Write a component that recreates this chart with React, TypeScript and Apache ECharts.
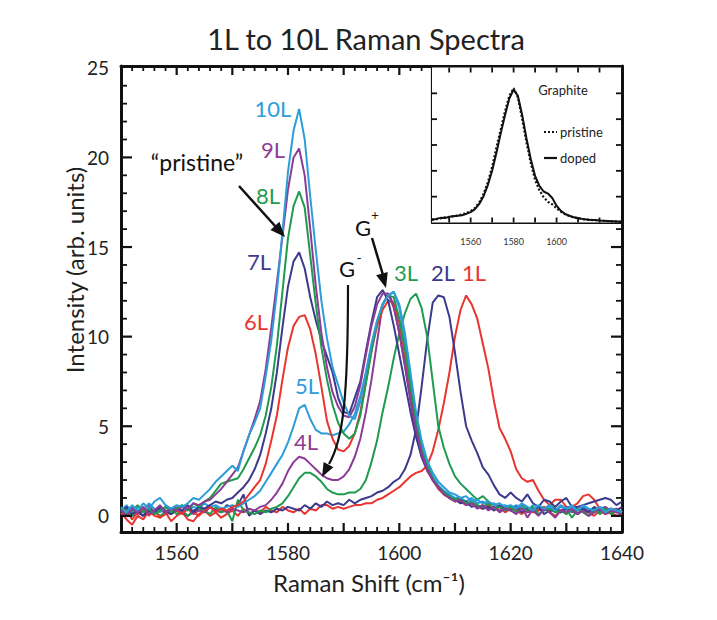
import React, { useEffect, useRef } from "react";
import * as echarts from "echarts";

// Raman shift sampling (cm^-1)
const ramanShift = [
  1550, 1551, 1552, 1553, 1554, 1555, 1556, 1557, 1558, 1559,
  1560, 1561, 1562, 1563, 1564, 1565, 1566, 1567, 1568, 1569,
  1570, 1571, 1572, 1573, 1574, 1575, 1576, 1577, 1578, 1579,
  1580, 1581, 1582, 1583, 1584, 1585, 1586, 1587, 1588, 1589,
  1590, 1591, 1592, 1593, 1594, 1595, 1596, 1597, 1598, 1599,
  1600, 1601, 1602, 1603, 1604, 1605, 1606, 1607, 1608, 1609,
  1610, 1611, 1612, 1613, 1614, 1615, 1616, 1617, 1618, 1619,
  1620, 1621, 1622, 1623, 1624, 1625, 1626, 1627, 1628, 1629,
  1630, 1631, 1632, 1633, 1634, 1635, 1636, 1637, 1638, 1639,
  1640,
];

const s1L = [
  0.2, -0.2, -0.5, 0.0, -0.2, 0.3, 0.0, -0.1, 0.2, -0.3,
  0.0, 0.2, -0.2, -0.3, 0.1, 0.3, 0.0, 0.2, -0.1, 0.1,
  0.3, 0.0, 0.4, 0.1, 0.3, 0.2, 0.5, 0.3, 0.2, 0.5,
  0.3, 0.2, 0.4, 0.1, 0.4, 0.3, 0.6, 0.6, 0.4, 0.5,
  0.4, 0.5, 0.6, 0.6, 0.7, 0.7, 0.9, 1.0, 1.2, 1.4,
  1.6, 1.9, 2.2, 2.4, 2.5, 2.8, 3.6, 4.8, 6.3, 8.0,
  10.0, 11.5, 12.3, 11.8, 11.0, 9.6, 8.2, 6.4, 4.9, 4.3,
  3.6, 2.6, 2.1, 1.9, 2.0, 1.4, 0.9, 0.6, 0.9, 0.9,
  0.5, 0.5, 0.7, 1.1, 1.2, 0.9, 0.4, 0.3, 0.2, 0.3,
  0.2,
];
const s2L = [
  0.3, 0.1, 0.4, 0.2, 0.0, 0.3, 0.1, 0.4, 0.2, 0.1,
  0.3, 0.2, 0.0, 0.3, 0.4, 0.2, 0.5, 0.3, 0.2, 0.6,
  0.5, 0.6, 1.2, 0.0, 0.3, 0.1, 0.3, 0.2, 0.4, 0.3,
  0.5, 0.4, 0.3, 0.6, 0.4, 0.7, 0.5, 0.8, 0.6, 0.7,
  0.6, 0.9, 0.7, 0.9, 1.0, 1.1, 1.3, 1.4, 1.6, 1.9,
  2.1, 2.6, 3.4, 4.8, 7.2, 9.8, 11.9, 12.3, 12.2, 11.1,
  9.1, 6.9, 5.0, 4.2, 3.5, 2.7, 2.3, 1.7, 1.2, 1.0,
  1.3, 1.0, 0.8, 1.2, 0.7, 0.5, 0.9, 0.8, 0.5, 0.8,
  1.0, 0.5, 0.5, 0.6, 0.7, 0.8, 0.9, 1.0, 0.9, 0.6,
  0.8,
];
const s3L = [
  0.1, 0.4, 0.0, 0.2, 0.5, 0.1, 0.3, 0.0, 0.2, 0.4,
  0.1, 0.3, 0.0, 0.2, 0.4, 0.3, 0.1, 0.5, 0.2, 0.3,
  -0.3, 0.9, 0.3, 0.2, 0.1, 0.3, 0.2, 0.4, 0.5, 0.7,
  1.1, 1.6, 2.1, 2.4, 2.4, 2.2, 1.9, 1.5, 1.3, 1.2,
  1.2, 1.3, 1.3, 1.5, 2.0, 3.0, 4.2, 5.8, 7.2, 8.8,
  10.2, 11.3, 12.1, 12.4, 11.6, 10.0, 7.5, 5.0, 3.8, 2.9,
  2.2, 1.8, 1.5, 1.2, 0.9, 1.1, 0.8, 0.6, 0.5, 0.4,
  0.5, 0.3, 0.6, 0.4, 0.2, 0.5, 0.3, 0.6, 0.4, 0.2,
  0.4, -0.1, 0.3, 0.5, 0.2, 0.4, 0.1, 0.3, 0.4, 0.2,
  0.3,
];
const s4L = [
  0.4, 0.2, 0.5, 0.1, 0.3, 0.6, 0.2, 0.4, 0.1, 0.3,
  0.5, 0.2, 0.4, 0.1, 0.3, 0.2, 0.5, 0.3, 0.4, 0.2,
  0.4, 0.3, 0.2, 0.4, 0.3, 0.5, 0.6, 0.9, 1.3, 1.8,
  2.5, 3.0, 3.3, 3.2, 2.9, 2.6, 2.3, 2.1, 2.0, 2.0,
  2.2, 2.6, 3.3, 4.3, 5.8, 7.6, 9.7, 11.8, 12.4, 11.8,
  10.2, 8.4, 6.4, 4.6, 3.3, 2.5, 2.0, 1.6, 1.3, 1.0,
  0.9, 0.8, 0.6, 0.7, 0.5, 0.6, 0.4, 0.5, 0.3, 0.5,
  0.4, 0.3, 0.5, -0.1, 0.4, 0.3, 0.5, 0.2, 0.4, 0.3,
  0.5, 0.2, 0.4, 0.6, 0.3, 0.2, 0.4, 0.5, 0.3, 0.4,
  0.2,
];
const s5L = [
  0.3, 0.6, 0.2, 0.5, 0.3, 0.7, 0.4, 0.2, 0.5, 0.3,
  0.4, 0.6, 0.3, 0.5, 0.4, 0.7, 0.5, 0.6, 0.4, 0.5,
  0.6, 0.5, 0.7, 0.9, 1.1, 1.4, 1.9, 2.4, 2.9, 3.4,
  4.1, 5.0, 6.0, 6.2, 5.4, 4.8, 4.6, 4.6, 4.5, 4.6,
  4.7, 5.1, 5.7, 6.7, 8.0, 9.5, 10.8, 11.8, 12.3, 12.5,
  11.6, 9.8, 7.6, 5.5, 3.9, 2.9, 2.2, 1.7, 1.4, 1.2,
  1.0, 1.0, 0.8, 1.0, 0.7, 0.8, 0.6, 0.7, 0.5, 0.6,
  0.4, 0.6, 0.5, 0.3, 0.6, 0.5, 0.4, 0.6, 0.3, 0.5,
  0.4, 0.6, 0.3, 0.5, 0.4, 0.2, 0.5, 0.3, 0.4, 0.2,
  0.3,
];
const s6L = [
  0.0, 0.3, -0.2, 0.2, 0.4, 0.0, 0.3, -0.1, 0.1, 0.2,
  0.3, 0.1, 0.4, 0.2, 0.0, 0.3, 0.5, 0.2, 0.4, 0.3,
  0.5, 0.6, 0.8, 1.2, 1.6, 2.0, 2.9, 4.2, 5.6, 7.6,
  9.4, 10.6, 11.1, 11.2, 10.4, 9.0, 7.2, 5.3, 4.3, 3.7,
  3.6, 3.9, 4.6, 5.8, 7.5, 9.2, 10.6, 11.5, 12.0, 11.9,
  10.8, 9.0, 7.0, 5.0, 3.6, 2.7, 2.0, 1.5, 1.2, 1.0,
  0.8, 0.9, 0.6, 0.7, 0.5, 0.4, 0.6, 0.3, 0.5, 0.2,
  0.4, 0.3, 0.1, 0.4, 0.2, 0.3, 0.5, 0.2, 0.0, 0.3,
  0.2, 0.4, 0.1, 0.3, 0.2, 0.0, 0.3, 0.1, 0.2, 0.0,
  0.1,
];
const s7L = [
  0.2, 0.5, 0.1, 0.3, 0.0, 0.4, 0.2, 0.5, 0.3, 0.1,
  0.4, 0.3, 0.6, 0.2, 0.5, 0.4, 0.6, 0.8, 0.7, 0.9,
  1.0, 1.3, 1.6, 2.0, 2.6, 3.4, 4.6, 6.0, 8.0, 10.5,
  12.8, 14.2, 14.7, 13.8, 12.2, 10.9, 9.8, 8.9, 8.0, 6.6,
  5.8, 5.7, 6.6, 7.5, 9.2, 10.8, 12.2, 12.6, 12.0, 10.6,
  9.0, 7.4, 5.8, 4.4, 3.3, 2.6, 2.0, 1.6, 1.3, 1.0,
  0.9, 0.7, 0.8, 0.5, 0.6, 0.4, 0.5, 0.3, 0.6, 0.4,
  0.3, 0.5, 0.2, 0.4, 0.3, 0.5, 0.1, 0.3, 0.4, 0.2,
  0.4, 0.3, 0.1, 0.4, 0.2, 0.5, 0.3, 0.2, 0.4, 0.3,
  0.5,
];
const s8L = [
  0.4, 0.1, 0.3, 0.6, 0.2, 0.4, 0.1, 0.3, 0.5, 0.2,
  0.4, 0.6, 0.3, 0.7, 0.5, 0.8, 1.0, 1.4, 1.8, 1.9,
  2.0, 2.1, 2.6, 3.2, 3.8, 4.5, 5.6, 7.2, 9.5, 12.5,
  15.5, 17.3, 18.1, 17.2, 14.5, 11.8, 9.4, 7.6, 6.2, 5.2,
  4.6, 4.3, 4.6, 5.6, 7.4, 9.2, 10.8, 11.8, 12.3, 12.2,
  11.0, 9.3, 7.2, 5.2, 3.7, 2.8, 2.1, 1.6, 1.3, 1.1,
  0.9, 1.0, 0.7, 0.8, 0.6, 0.5, 0.7, 0.4, 0.5, 0.3,
  0.5, 0.2, 0.4, 0.3, 0.5, 0.1, 0.3, 0.4, 0.2, 0.3,
  0.1, 0.3, 0.4, 0.2, 0.0, 0.3, 0.2, 0.4, 0.1, 0.3,
  0.2,
];
const s9L = [
  0.3, 0.0, 0.4, 0.2, 0.5, 0.1, 0.3, 0.6, 0.2, 0.4,
  0.3, 0.5, 0.4, 0.7, 0.6, 0.8, 0.9, 1.2, 1.5, 1.9,
  2.3, 2.7, 3.6, 4.5, 5.4, 6.4, 8.2, 10.5, 13.0, 15.6,
  18.2, 20.0, 20.5, 19.0, 16.0, 12.8, 10.2, 8.3, 6.9, 6.1,
  5.6, 5.5, 6.1, 7.3, 9.0, 10.6, 11.8, 12.4, 12.4, 11.6,
  10.2, 8.4, 6.5, 4.8, 3.5, 2.6, 2.0, 1.6, 1.2, 1.0,
  0.8, 0.9, 0.6, 0.7, 0.4, 0.6, 0.3, 0.5, 0.2, 0.4,
  0.3, 0.1, 0.4, 0.2, 0.3, 0.0, 0.4, 0.2, -0.1, 0.3,
  0.2, 0.4, 0.1, 0.3, 0.0, 0.2, 0.4, 0.1, 0.3, 0.2,
  0.1,
];
const s10L = [
  0.5, 0.2, 0.6, 0.3, 0.7, 0.4, 0.8, 1.0, 0.6, 0.4,
  0.6, 0.5, 0.7, 1.0, 0.9, 1.2, 1.5, 1.9, 2.2, 2.5,
  2.8, 2.5, 3.6, 4.5, 5.2, 6.0, 7.8, 9.8, 12.5, 15.8,
  19.2, 21.5, 22.7, 21.0, 17.8, 14.8, 12.0, 9.9, 8.3, 7.3,
  6.3, 5.6, 5.4, 6.4, 8.0, 9.6, 10.9, 11.8, 12.3, 12.5,
  11.8, 10.2, 8.0, 5.8, 4.2, 3.1, 2.4, 1.9, 1.6, 1.3,
  1.2, 1.0, 1.1, 0.8, 0.9, 0.7, 0.8, 0.6, 0.7, 0.5,
  0.6, 0.4, 0.7, 0.5, 0.3, 0.6, 0.4, 0.5, 0.3, 0.6,
  0.4, 0.5, 0.3, 0.6, 0.4, 0.3, 0.5, 0.2, 0.4, 0.3,
  0.2,
];

const layerNames = ["1L", "2L", "3L", "4L", "5L", "6L", "7L", "8L", "9L", "10L"];
const layerValues = [s1L, s2L, s3L, s4L, s5L, s6L, s7L, s8L, s9L, s10L];

// Inset: graphite G band
const insetShift = [
  1542, 1544, 1546, 1548, 1550, 1552, 1554, 1556, 1558, 1560,
  1562, 1564, 1566, 1568, 1570, 1572, 1574, 1576, 1578, 1580,
  1582, 1584, 1586, 1588, 1590, 1592, 1594, 1596, 1598, 1600,
  1602, 1604, 1606, 1608, 1610, 1612, 1614, 1616, 1618, 1620,
  1622, 1624, 1626, 1628, 1630,
];
const graphiteDoped = [
  0.10, 0.14, 0.18, 0.17, 0.22, 0.24, 0.26, 0.28, 0.34, 0.40,
  0.52, 0.72, 1.02, 1.45, 2.0, 2.7, 3.45, 4.15, 4.8, 5.15,
  4.9, 4.15, 3.25, 2.45, 1.8, 1.42, 1.2, 1.12, 0.95, 0.65,
  0.45, 0.33, 0.26, 0.2, 0.17, 0.14, 0.12, 0.1, 0.1, 0.08,
  0.07, 0.06, 0.05, 0.04, 0.03,
];
const graphitePristine = [
  0.12, 0.13, 0.16, 0.2, 0.2, 0.25, 0.27, 0.32, 0.36, 0.44,
  0.56, 0.78, 1.1, 1.55, 2.15, 2.9, 3.6, 4.3, 4.9, 5.2,
  4.85, 4.0, 3.1, 2.3, 1.65, 1.25, 0.98, 0.8, 0.7, 0.55,
  0.42, 0.32, 0.25, 0.2, 0.16, 0.13, 0.11, 0.1, 0.09, 0.07,
  0.06, 0.05, 0.04, 0.04, 0.03,
];

const xLabelTicks = [1560, 1580, 1600, 1620, 1640];
const yLabelTicks = [0, 5, 10, 15, 20, 25];
const insetLabelTicks = [1560, 1580, 1600];

const palette = ["#e8352f", "#3c3a8c", "#1f9a4e", "#8c3c97", "#2c9dd8"];
const FONT = "Lato, 'Open Sans', sans-serif";

const X_MIN = 1550, X_MAX = 1640, Y_MIN = -0.9, Y_MAX = 25.1;
const IX_MIN = 1542, IX_MAX = 1630, IY_MIN = 0, IY_MAX = 6;

function steps(a: number, b: number, s: number) {
  const out: number[] = [];
  for (let v = a; v <= b + 1e-9; v += s) out.push(Math.round(v * 100) / 100);
  return out;
}

// tick specs: [x, y, direction(0 up,1 down,2 right,3 left), length]
function mainTicks() {
  const t: number[][] = [];
  steps(1552, 1638, 2).forEach((v) => t.push([v, Y_MIN, 0, v % 10 === 0 ? 9 : 5]));
  steps(1552, 1604, 2).forEach((v) => t.push([v, Y_MAX, 1, v % 10 === 0 ? 9 : 5]));
  steps(0, 24, 1).forEach((v) => t.push([X_MIN, v, 2, v % 5 === 0 ? 11 : 6]));
  steps(0, 16, 1).forEach((v) => t.push([X_MAX, v, 3, v % 5 === 0 ? 11 : 6]));
  return t;
}
function insetTicks() {
  const t: number[][] = [];
  steps(1550, 1620, 10).forEach((v) => t.push([v, IY_MIN, 0, 5]));
  steps(1550, 1620, 10).forEach((v) => t.push([v, IY_MAX, 1, 5]));
  steps(1, 5, 1).forEach((v) => t.push([IX_MIN, v, 2, 5]));
  steps(1, 5, 1).forEach((v) => t.push([IX_MAX, v, 3, 5]));
  return t;
}

function renderTick(params: any, api: any) {
  const p = api.coord([api.value(0), api.value(1)]);
  const dir = api.value(2);
  const len = api.value(3);
  let x2 = p[0], y2 = p[1];
  if (dir === 0) y2 -= len;
  else if (dir === 1) y2 += len;
  else if (dir === 2) x2 += len;
  else x2 -= len;
  return {
    type: "line",
    shape: { x1: p[0], y1: p[1], x2, y2 },
    style: { stroke: "#111", lineWidth: len > 6 ? 2.2 : 1.8 },
  };
}

function arrowHead(tx: number, ty: number, fx: number, fy: number, len = 14, half = 5.5) {
  const dx = tx - fx, dy = ty - fy;
  const d = Math.hypot(dx, dy);
  const ux = dx / d, uy = dy / d;
  const bx = tx - ux * len, by = ty - uy * len;
  return {
    type: "polygon",
    silent: true,
    shape: { points: [[tx, ty], [bx - uy * half, by + ux * half], [bx + uy * half, by - ux * half]] },
    style: { fill: "#111" },
    z: 100,
  };
}

function label(text: string, x: number, y: number, color: string, size = 20, rotation = 0) {
  return {
    type: "text",
    silent: true,
    x,
    y,
    rotation,
    z: 100,
    style: { text, fill: color, font: `${size}px ${FONT}`, textAlign: "center", textVerticalAlign: "middle" },
  };
}

function buildOption() {
  const frame = { show: true, onZero: false, lineStyle: { color: "#111", width: 3 } };
  const insetFrame = { show: true, onZero: false, lineStyle: { color: "#111", width: 2.2 } };
  const noTick = { show: false };
  const fmt = (v: number) => String(v);

  const mainSeries = layerNames.map((n, i) => ({
    name: n,
    type: "line",
    xAxisIndex: 0,
    yAxisIndex: 0,
    showSymbol: false,
    symbol: "none",
    lineStyle: { width: 2, color: palette[i % 5] },
    itemStyle: { color: palette[i % 5] },
    data: ramanShift.map((x, k) => [x, layerValues[i][k]]),
    z: 3,
  }));

  const layerLabels = [
    ["10L", 273, 108, 9],
    ["9L", 273, 149, 8],
    ["8L", 268, 195, 7],
    ["7L", 259, 261, 6],
    ["6L", 256, 321, 5],
    ["5L", 307, 385, 4],
    ["4L", 306, 441, 3],
    ["3L", 406, 272, 2],
    ["2L", 443, 272, 1],
    ["1L", 474, 272, 0],
  ].map(([t, x, y, i]) => label(t as string, x as number, y as number, palette[(i as number) % 5], 22));

  return {
    animation: false,
    backgroundColor: "#fff",
    grid: [
      { left: 121, right: 95, top: 66, bottom: 88 },
      { left: 432, top: 67.5, width: 189, height: 155, show: true, backgroundColor: "#fff", borderWidth: 0, z: 5 },
    ],
    xAxis: [
      {
        gridIndex: 0, type: "value", min: X_MIN, max: X_MAX, position: "bottom",
        axisLine: frame, axisTick: noTick,
        axisLabel: { show: true, customValues: xLabelTicks, formatter: fmt, fontSize: 19, color: "#222", fontFamily: FONT, margin: 11 },
        splitLine: { show: false },
      },
      {
        gridIndex: 0, type: "value", min: X_MIN, max: X_MAX, position: "top",
        axisLine: frame, axisTick: noTick, axisLabel: { show: false }, splitLine: { show: false },
      },
      {
        gridIndex: 1, type: "value", min: IX_MIN, max: IX_MAX, position: "bottom",
        axisLine: insetFrame, axisTick: noTick,
        axisLabel: { show: true, customValues: insetLabelTicks, formatter: fmt, fontSize: 9, color: "#333", fontFamily: FONT, margin: 14 },
        splitLine: { show: false },
      },
      {
        gridIndex: 1, type: "value", min: IX_MIN, max: IX_MAX, position: "top",
        axisLine: insetFrame, axisTick: noTick, axisLabel: { show: false }, splitLine: { show: false },
      },
    ],
    yAxis: [
      {
        gridIndex: 0, type: "value", min: Y_MIN, max: Y_MAX, position: "left",
        axisLine: frame, axisTick: noTick,
        axisLabel: { show: true, customValues: yLabelTicks, formatter: fmt, fontSize: 19, color: "#222", fontFamily: FONT, margin: 12 },
        splitLine: { show: false },
      },
      {
        gridIndex: 0, type: "value", min: Y_MIN, max: Y_MAX, position: "right",
        axisLine: frame, axisTick: noTick, axisLabel: { show: false }, splitLine: { show: false },
      },
      {
        gridIndex: 1, type: "value", min: IY_MIN, max: IY_MAX, position: "left",
        axisLine: insetFrame, axisTick: noTick, axisLabel: { show: false }, splitLine: { show: false },
      },
      {
        gridIndex: 1, type: "value", min: IY_MIN, max: IY_MAX, position: "right",
        axisLine: insetFrame, axisTick: noTick, axisLabel: { show: false }, splitLine: { show: false },
      },
    ],
    series: [
      ...mainSeries,
      {
        name: "mainTicks", type: "custom", xAxisIndex: 0, yAxisIndex: 0, clip: false, silent: true,
        renderItem: renderTick, data: mainTicks(), z: 8,
      },
      {
        name: "pristine", type: "line", xAxisIndex: 2, yAxisIndex: 2, showSymbol: false, symbol: "none",
        lineStyle: { width: 2.2, color: "#111", type: [2, 2] },
        data: insetShift.map((x, k) => [x, graphitePristine[k]]), z: 9,
      },
      {
        name: "doped", type: "line", xAxisIndex: 2, yAxisIndex: 2, showSymbol: false, symbol: "none",
        lineStyle: { width: 2, color: "#111" },
        data: insetShift.map((x, k) => [x, graphiteDoped[k]]), z: 9,
      },
      {
        name: "insetTicks", type: "custom", xAxisIndex: 2, yAxisIndex: 2, clip: false, silent: true,
        renderItem: renderTick, data: insetTicks(), z: 10,
      },
    ],
    graphic: [
      label("1L to 10L Raman Spectra", 366, 38, "#222", 29),
      label("Intensity (arb. units)", 74, 270, "#222", 24, Math.PI / 2),
      label("Raman Shift (cm\u207B\u00B9)", 369, 582, "#222", 24),
      ...layerLabels,
      label("\u201Cpristine\u201D", 197, 162, "#111", 23),
      { type: "line", silent: true, z: 100, shape: { x1: 239, y1: 186, x2: 276, y2: 227 }, style: { stroke: "#111", lineWidth: 2.5 } },
      arrowHead(285, 237, 239, 186, 15, 6),
      label("G", 363, 227, "#111", 22),
      label("+", 375, 215, "#111", 13),
      { type: "line", silent: true, z: 100, shape: { x1: 372, y1: 238, x2: 383, y2: 275 }, style: { stroke: "#111", lineWidth: 2.5 } },
      arrowHead(386, 288, 372, 238, 15, 6),
      label("G", 347, 268, "#111", 22),
      label("-", 359, 257, "#111", 14),
      {
        type: "bezierCurve", silent: true, z: 100,
        shape: { x1: 348, y1: 285, cpx1: 348, cpy1: 400, cpx2: 343, cpy2: 440, x2: 329, y2: 464 },
        style: { stroke: "#111", lineWidth: 2.2, fill: "none" },
      },
      arrowHead(322, 477, 332, 458, 14, 5.5),
      label("Graphite", 563, 90, "#222", 13),
      { type: "line", silent: true, z: 100, shape: { x1: 544, y1: 132, x2: 557, y2: 132 }, style: { stroke: "#111", lineWidth: 2.2, lineDash: [2, 2] } },
      { type: "text", silent: true, z: 100, x: 560, y: 132, style: { text: "pristine", fill: "#222", font: `13px ${FONT}`, textAlign: "left", textVerticalAlign: "middle" } },
      { type: "line", silent: true, z: 100, shape: { x1: 544, y1: 158, x2: 557, y2: 158 }, style: { stroke: "#111", lineWidth: 2.2 } },
      { type: "text", silent: true, z: 100, x: 560, y: 158, style: { text: "doped", fill: "#222", font: `13px ${FONT}`, textAlign: "left", textVerticalAlign: "middle" } },
    ],
  };
}

export default function App() {
  const ref = useRef<HTMLDivElement>(null);
  useEffect(() => {
    if (!ref.current) return;
    const chart = echarts.init(ref.current, null, { renderer: "svg" });
    chart.setOption(buildOption() as any);
    return () => chart.dispose();
  }, []);
  return (
    <div
      ref={ref}
      style={{ position: "fixed", left: 0, top: 0, width: 717, height: 620, background: "#fff" }}
    />
  );
}
